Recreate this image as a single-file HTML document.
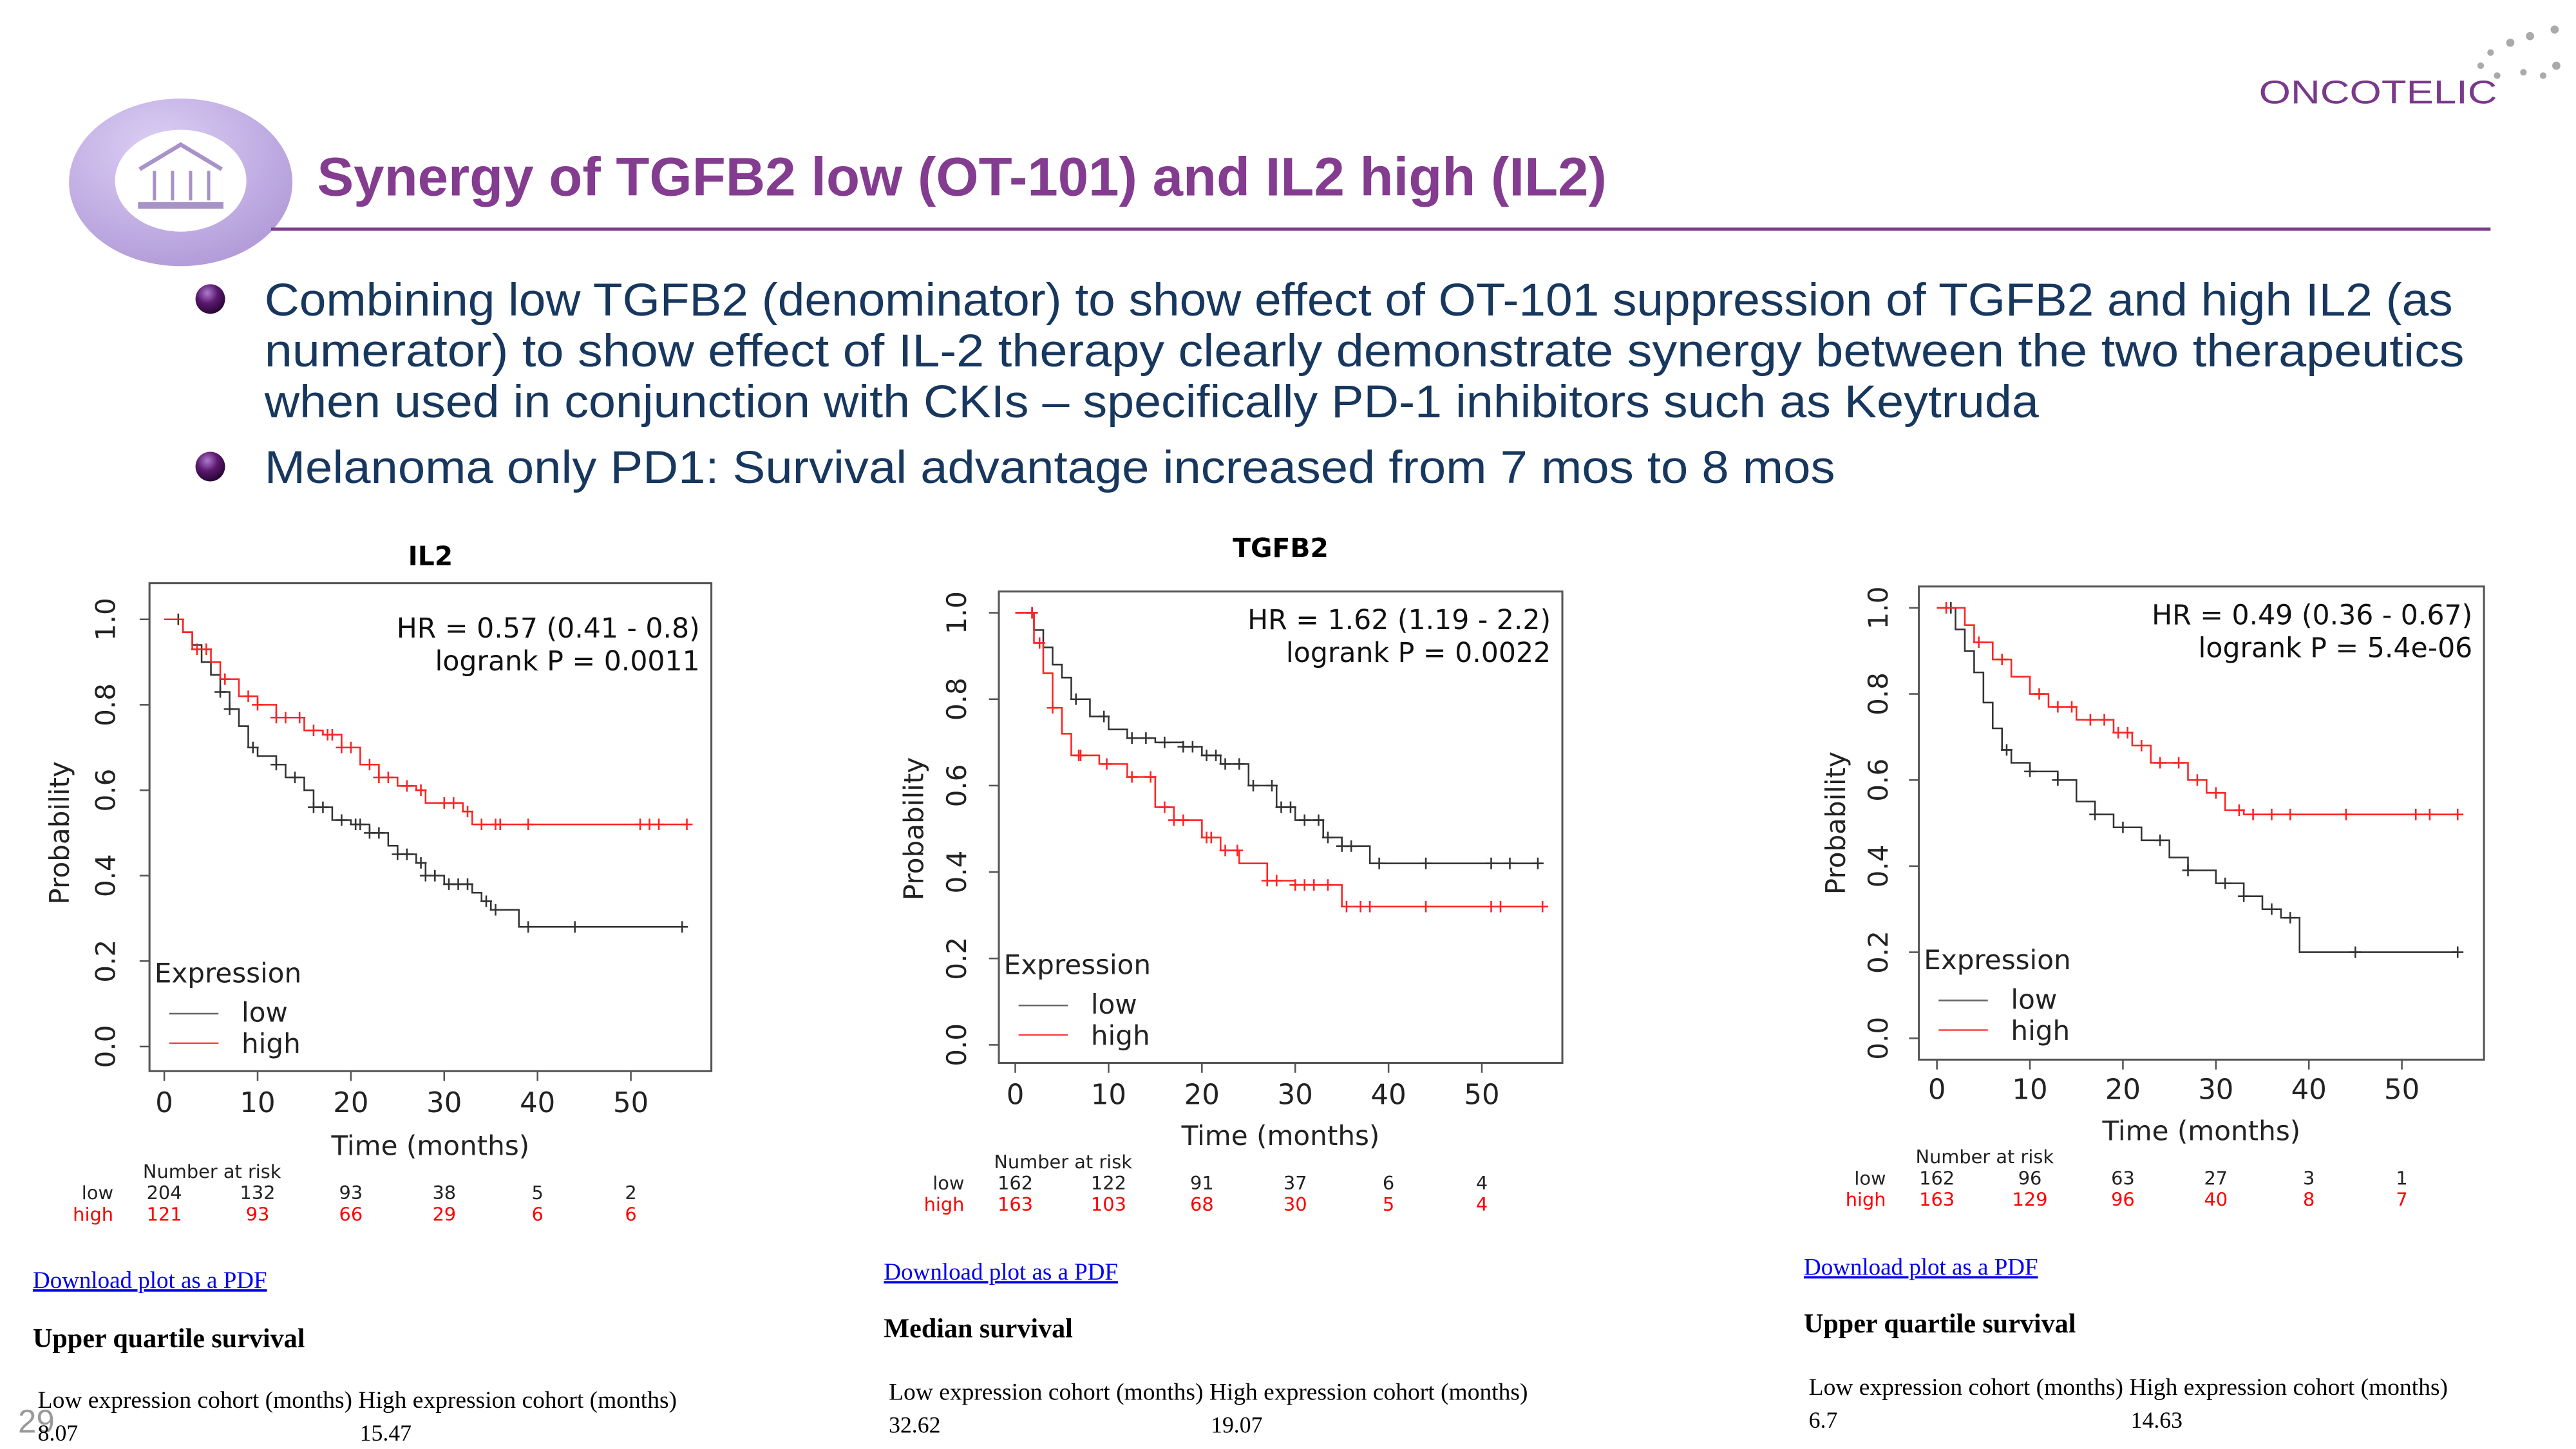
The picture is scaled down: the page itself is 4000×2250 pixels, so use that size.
<!DOCTYPE html>
<html><head><meta charset="utf-8"><style>
html,body{margin:0;padding:0;background:#fff;width:4000px;height:2250px;overflow:hidden}
svg{display:block}
.ser{font-family:"Liberation Serif",serif}
.dj{font-family:"DejaVu Sans","Liberation Sans",sans-serif}
.ls{font-family:"Liberation Sans",sans-serif}
</style></head><body>
<svg id="page" width="4000" height="2250" viewBox="0 0 1568 882" xmlns="http://www.w3.org/2000/svg">
<defs>
<radialGradient id="ring" cx="40%" cy="30%" r="75%"><stop offset="0" stop-color="#dccff5"/><stop offset="1" stop-color="#b19ad8"/></radialGradient>
<radialGradient id="bul" cx="40%" cy="30%" r="70%"><stop offset="0" stop-color="#b07ad0"/><stop offset="0.5" stop-color="#5a1a6e"/><stop offset="1" stop-color="#2a0535"/></radialGradient>
</defs>
<g>
<ellipse cx="110" cy="111" rx="68" ry="51" fill="url(#ring)"/>
<ellipse cx="110" cy="110" rx="40" ry="31" fill="#fff"/>
<path d="M85 103 L110 88 L135 103" stroke="#a793c8" stroke-width="2.5" fill="none"/>
<line x1="94" y1="104" x2="94" y2="122" stroke="#a793c8" stroke-width="2"/>
<line x1="105" y1="104" x2="105" y2="122" stroke="#a793c8" stroke-width="2"/>
<line x1="116" y1="104" x2="116" y2="122" stroke="#a793c8" stroke-width="2"/>
<line x1="127" y1="104" x2="127" y2="122" stroke="#a793c8" stroke-width="2"/>
<rect x="84" y="123" width="52" height="4" fill="#a793c8"/>
</g>
<text x="193" y="119" class="ls" font-weight="bold" font-size="33" fill="#833c8f" textLength="785" lengthAdjust="spacingAndGlyphs">Synergy of TGFB2 low (OT-101) and IL2 high (IL2)</text>
<line x1="165" y1="139.5" x2="1516" y2="139.5" stroke="#7b3f8c" stroke-width="2"/>
<g>
<text x="1375" y="63" class="ls" font-size="20" fill="#7a3a8a" textLength="145" lengthAdjust="spacingAndGlyphs">ONCOTELIC</text>
<g fill="#aaa"><circle cx="1555" cy="18" r="2.5"/><circle cx="1540" cy="22" r="2.5"/><circle cx="1528" cy="26" r="2.5"/><circle cx="1516" cy="32" r="2"/><circle cx="1510" cy="40" r="2"/><circle cx="1556" cy="40" r="2.5"/><circle cx="1548" cy="46" r="2"/><circle cx="1520" cy="46" r="2"/><circle cx="1536" cy="44" r="2"/></g>
</g>
<circle cx="128" cy="182" r="9" fill="url(#bul)"/>
<circle cx="128" cy="284" r="9" fill="url(#bul)"/>
<g class="ls" font-size="28" fill="#17375e">
<text x="161" y="192" textLength="1332" lengthAdjust="spacingAndGlyphs">Combining low TGFB2 (denominator) to show effect of OT-101 suppression of TGFB2 and high IL2 (as</text>
<text x="161" y="223" textLength="1339" lengthAdjust="spacingAndGlyphs">numerator) to show effect of IL-2 therapy clearly demonstrate synergy between the two therapeutics</text>
<text x="161" y="254" textLength="1080" lengthAdjust="spacingAndGlyphs">when used in conjunction with CKIs – specifically PD-1 inhibitors such as Keytruda</text>
<text x="161" y="294" textLength="956" lengthAdjust="spacingAndGlyphs">Melanoma only PD1:  Survival advantage increased from 7 mos to 8 mos</text>
</g>
<text x="11" y="872" class="ls" font-size="20" fill="#999">29</text>
<g id="charts"></g>
</svg>
<script>
// ---- data ----
const chartTitles = ["IL2", "TGFB2", ""];
const hrTexts = ["HR = 0.57 (0.41 - 0.8)", "HR = 1.62 (1.19 - 2.2)", "HR = 0.49 (0.36 - 0.67)"];
const pTexts = ["logrank P = 0.0011", "logrank P = 0.0022", "logrank P = 5.4e-06"];
const xTicks = [0, 10, 20, 30, 40, 50];
const yTicks = [0, 0.2, 0.4, 0.6, 0.8, 1.0];
const yTickLabels = ["0.0", "0.2", "0.4", "0.6", "0.8", "1.0"];
const riskLow = [[204,132,93,38,5,2],[162,122,91,37,6,4],[162,96,63,27,3,1]];
const riskHigh = [[121,93,66,29,6,6],[163,103,68,30,5,4],[163,129,96,40,8,7]];
const lowT = [
 [0,2,3,4,5,6,7,8,9,10,12,13,15,16,18,20,22,24,25,27,28,30,33,34,35,38,56],
 [0,2,3,4,5,6,8,10,12,15,18,20,22,25,28,30,33,35,38,56],
 [0,2,3,4,5,6,7,8,10,13,15,17,19,22,25,27,30,33,35,37,39,56]];
const lowS = [
 [1,0.97,0.94,0.90,0.87,0.83,0.79,0.75,0.70,0.68,0.66,0.63,0.60,0.56,0.53,0.52,0.50,0.47,0.45,0.43,0.40,0.38,0.36,0.34,0.32,0.28,0.28],
 [1,0.96,0.92,0.88,0.85,0.80,0.76,0.73,0.71,0.70,0.69,0.67,0.65,0.60,0.55,0.52,0.48,0.46,0.42,0.42],
 [1,0.95,0.90,0.85,0.78,0.72,0.67,0.64,0.62,0.60,0.55,0.52,0.49,0.46,0.42,0.39,0.36,0.33,0.30,0.28,0.20,0.20]];
const highT = [
 [0,2,3,5,6,8,10,12,15,17,19,21,23,25,27,28,32,33,56],
 [0,2,3,4,5,6,9,12,15,17,20,22,24,27,30,35,56],
 [0,3,4,6,8,10,12,15,19,21,23,27,29,31,33,56]];
const highS = [
 [1,0.97,0.93,0.90,0.86,0.82,0.80,0.77,0.74,0.73,0.70,0.66,0.63,0.61,0.60,0.57,0.55,0.52,0.52],
 [1,0.93,0.86,0.78,0.72,0.67,0.65,0.62,0.55,0.52,0.48,0.45,0.42,0.38,0.37,0.32,0.32],
 [1,0.96,0.92,0.88,0.84,0.80,0.77,0.74,0.71,0.68,0.64,0.60,0.57,0.53,0.52,0.52]];
const lowCens = [
 [1.5,6,7,9.5,12,14,16,17,19,20.5,21,22,23,25,26,27.5,28,29,30.5,31.5,32.5,34.5,35.5,39,44,55.5],
 [1.8,6.5,9.5,12.5,14,16,18,19,20.5,21.5,22.5,24,25.5,27.5,28.5,29.5,31,32.5,33.5,35,36,39,44,51,53,56],
 [1.5,7.5,10,13,17,20,24,27,31,33,36,38,45,56]];
const highCens = [
 [3.5,4.5,6.5,9,10,12,13,14.5,16,17.5,18,19,20,22,23,24,26,27.5,30,31,32.5,34,35.5,36,39,51,52,53,56],
 [1.8,2.6,4,6.8,7,9.8,12.5,14.5,16,17,18,20.5,21,22.5,23.8,27,28,30,31,32,33.5,35.5,37,38,44,51,52,56.5],
 [1,4.5,7,11,13,14.5,16.5,18,19.5,20.5,22,24,26,28,30,32.5,34,36,38,44,51.5,53,56]];

// ---- layout (not data) ----
const cfg = [
 {L:91,R:433,T:355,B:652,x0:100,x50:384,y0:637,y1:377,titleY:344,ylabX:70,probX:42,xlabY:677,timeY:703,hrY:388,nY:717,rY:730,exY:598},
 {L:608,R:951,T:360,B:647,x0:618,x50:902,y0:636,y1:373,titleY:339,ylabX:588,probX:562,xlabY:672,timeY:697,hrY:383,nY:711,rY:724,exY:593},
 {L:1168,R:1512,T:357,B:645,x0:1179,x50:1462,y0:632,y1:370,titleY:0,ylabX:1149,probX:1123,xlabY:669,timeY:694,hrY:380,nY:708,rY:721,exY:590}];
const NS = "http://www.w3.org/2000/svg";
const root = document.getElementById('charts');
function mk(tag, attrs, parent, txt){const e=document.createElementNS(NS,tag);for(const k in attrs)e.setAttribute(k,attrs[k]);if(txt!==undefined)e.textContent=txt;parent.appendChild(e);return e;}
function stepAt(T,S,t){let v=S[0];for(let i=0;i<T.length;i++){if(T[i]<=t)v=S[i];}return v;}

cfg.forEach((c,i)=>{
 const xs=t=>c.x0+(c.x50-c.x0)*t/50;
 const ys=p=>c.y0-(c.y0-c.y1)*p;
 const g=mk('g',{},root);
 
 
 if(chartTitles[i]){const tt=mk('text',{x:(c.L+c.R)/2,y:c.titleY,'text-anchor':'middle','font-size':16,'font-weight':'bold',class:'dj'},g,chartTitles[i]);
  
  }
 const box=mk('rect',{x:c.L,y:c.T,width:c.R-c.L,height:c.B-c.T,fill:'none',stroke:'#555','stroke-width':1.2},g);
 
 
 yTicks.forEach((v,k)=>{const y=ys(v);mk('line',{x1:c.L-6,x2:c.L,y1:y,y2:y,stroke:'#555'},g);
  const t=mk('text',{x:c.ylabX,y:y,transform:`rotate(-90 ${c.ylabX} ${y})`,'text-anchor':'middle','font-size':16.5,class:'dj',fill:'#222'},g,yTickLabels[k]);
  
  });
 xTicks.forEach(v=>{const x=xs(v);mk('line',{x1:x,x2:x,y1:c.B,y2:c.B+6,stroke:'#555'},g);
  const t=mk('text',{x:x,y:c.xlabY,'text-anchor':'middle','font-size':17,class:'dj',fill:'#222'},g,String(v));
  
  });
 const pl=mk('text',{x:c.probX,y:(c.y0+c.y1)/2,transform:`rotate(-90 ${c.probX} ${(c.y0+c.y1)/2})`,'text-anchor':'middle','font-size':16.5,class:'dj',fill:'#222'},g,'Probability');
 
 
 const tl=mk('text',{x:(c.L+c.R)/2,y:c.timeY,'text-anchor':'middle','font-size':16.5,class:'dj',fill:'#222'},g,'Time (months)');
 
 
 const hr=mk('text',{x:c.R-7,y:c.hrY,'text-anchor':'end','font-size':16.7,class:'dj',fill:'#111'},g,hrTexts[i]);
 
 
 const pv=mk('text',{x:c.R-7,y:c.hrY+20,'text-anchor':'end','font-size':16.7,class:'dj',fill:'#111'},g,pTexts[i]);
 
 
 [[lowT[i],lowS[i],lowCens[i],'#333','low'],[highT[i],highS[i],highCens[i],'#f22','high']].forEach(([T,S,C,col,nm])=>{
  let d=`M${xs(T[0])},${ys(S[0])}`;
  for(let k=1;k<T.length;k++){d+=` H${xs(T[k])} V${ys(S[k])}`;}
  const p=mk('path',{d:d,fill:'none',stroke:col,'stroke-width':1},g);
  
  
  C.forEach(t=>{const x=xs(t),y=ys(stepAt(T,S,t));
   const m=mk('path',{d:`M${x-3.5},${y}H${x+3.5}M${x},${y-3.5}V${y+3.5}`,stroke:col,'stroke-width':1},g);
   
   });
 });
 const lg=mk('g',{class:'dj'},g);
 
 
 mk('text',{x:c.L+3,y:c.exY,'font-size':16.5,fill:'#222'},lg,'Expression');
 mk('line',{x1:c.L+12,x2:c.L+42,y1:c.exY+19,y2:c.exY+19,stroke:'#666'},lg);
 mk('line',{x1:c.L+12,x2:c.L+42,y1:c.exY+37,y2:c.exY+37,stroke:'#f44'},lg);
 mk('text',{x:c.L+56,y:c.exY+24,'font-size':16.5,fill:'#222'},lg,'low');
 mk('text',{x:c.L+56,y:c.exY+43,'font-size':16.5,fill:'#222'},lg,'high');
 const rt=mk('g',{class:'dj','font-size':11.3},g);
 
 
 mk('text',{x:xs(0)-13,y:c.nY,fill:'#222'},rt,'Number at risk');
 mk('text',{x:xs(0)-31,y:c.rY,'text-anchor':'end',fill:'#222'},rt,'low');
 mk('text',{x:xs(0)-31,y:c.rY+13,'text-anchor':'end',fill:'#f00'},rt,'high');
 xTicks.forEach((v,k)=>{
  mk('text',{x:xs(v),y:c.rY,'text-anchor':'middle',fill:'#222'},rt,String(riskLow[i][k]));
  mk('text',{x:xs(v),y:c.rY+13,'text-anchor':'middle',fill:'#f00'},rt,String(riskHigh[i][k]));
 });
});

const blocks=[
 {x:20,ly:784,hy:820,h:'Upper quartile survival',cy:857,lo:'8.07',hi:'15.47'},
 {x:538,ly:779,hy:814,h:'Median survival',cy:852,lo:'32.62',hi:'19.07'},
 {x:1098,ly:776,hy:811,h:'Upper quartile survival',cy:849,lo:'6.7',hi:'14.63'}];
blocks.forEach((b,i)=>{
 const a=mk('text',{x:b.x,y:b.ly,'font-size':14.5,fill:'#00e','text-decoration':'underline',class:'ser'},root,'Download plot as a PDF');
 
 
 const hh=mk('text',{x:b.x,y:b.hy,'font-size':16.5,'font-weight':'bold',class:'ser'},root,b.h);
 
 
 const cc=mk('text',{x:b.x+3,y:b.cy,'font-size':14.5,class:'ser',textLength:389,lengthAdjust:'spacingAndGlyphs'},root,'Low expression cohort (months) High expression cohort (months)');
 
 
 const v1=mk('text',{x:b.x+3,y:b.cy+20,'font-size':14,class:'ser'},root,b.lo);
 
 
 const v2=mk('text',{x:b.x+199,y:b.cy+20,'font-size':14,class:'ser'},root,b.hi);
 
 
});
</script>
</body></html>
